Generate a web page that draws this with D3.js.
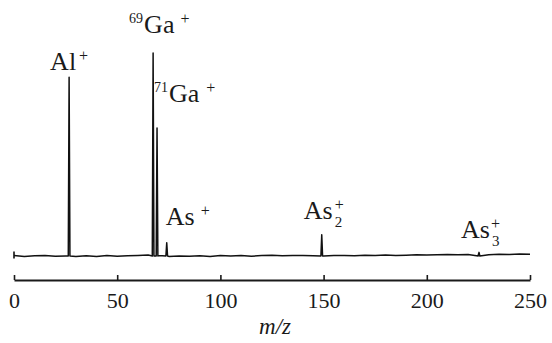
<!DOCTYPE html>
<html>
<head>
<meta charset="utf-8">
<script src="https://cdn.jsdelivr.net/npm/d3@7"></script>
<style>
  body { margin: 0; background: #fff; }
  #chart { width: 552px; height: 343px; }
  svg text { font-family: "Liberation Serif", "Times New Roman", Times, serif !important; fill: #1a1a1a; }
</style>
</head>
<body>
<div id="chart"></div>
<script>
const peakMz = [26.7, 67.4, 69.3, 74.0, 149.1, 225.3];
const peakIntensity = [88, 100, 63, 6.5, 10.5, 1.8];
const peakIon = ['Al', 'Ga', 'Ga', 'As', 'As', 'As'];
const peakIsotope = ['', '69', '71', '', '', ''];
const peakSub = ['', '', '', '', '2', '3'];

const baselineMz = [0, 5, 10, 15, 20, 25, 30, 35, 40, 45, 50, 55, 60, 65, 70, 75, 80, 85, 90, 95,
  100, 105, 110, 115, 120, 125, 130, 135, 140, 145, 150, 155, 160, 165, 170, 175, 180, 185, 190, 195,
  200, 205, 210, 215, 220, 225, 230, 235, 240, 245, 250];
const baselineNoise = [0.3, -0.2, 0.1, 0.2, -0.1, 0, -0.3, 0.1, -0.2, 0.2, -0.1, 0.1, 0.3, 0.5, 0.3, -0.2, 0, -0.1, 0.1, -0.2,
  0.2, 0, 0.3, -0.1, 0.2, 0.4, 0.1, 0.3, 0.2, 0.1, 0, 0.2, 0.3, 0.1, 0.4, 0.2, 0.5, 0.3, 0.4, 0.6,
  0.5, 0.6, 0.7, 0.6, 0.7, 0.8, 0.6, 0.9, 0.8, 1.0, 0.9];

const tickValues = [0, 50, 100, 150, 200, 250];

//Posición de las etiquetas respecto a la cima de cada pico
const labelDx = [-19, -9, 12, -1, -18, -18];
const labelDy = [-7, -20, -26, -18, -16, -14];
const supGap = [3, 6, 7, 6, 2, 1];

const SERIF = '"Liberation Serif", "Times New Roman", Times, serif';

let svg = d3.select('#chart')
  .append('svg')
    .attr('width', 552)
    .attr('height', 343);

let x = d3.scaleLinear()
  .domain([0, 250])
  .range([14, 530]);

let y = d3.scaleLinear()
  .domain([0, 100])
  .range([256, 53]);

//Eje inferior
let axis = svg.append('g')
  .attr('transform', 'translate(0,280)')
  .call(d3.axisBottom(x).tickValues(tickValues).tickSize(-5).tickSizeOuter(0).tickPadding(12));

axis.attr('font-family', null);
axis.select('.domain').attr('stroke', '#1a1a1a').attr('stroke-width', 2.2);
axis.selectAll('.tick line').attr('stroke', '#1a1a1a').attr('stroke-width', 1.6);
axis.selectAll('.tick text')
  .style('font-family', SERIF)
  .style('font-size', '22px')
  .attr('fill', '#1a1a1a');

svg.append('text')
  .attr('x', 275)
  .attr('y', 334)
  .attr('text-anchor', 'middle')
  .style('font-family', SERIF)
  .style('font-size', '23px')
  .style('font-style', 'italic')
  .text('m/z');

//Traza del espectro
let points = baselineMz.map(function(d, i) { return [d, baselineNoise[i]]; });
peakMz.forEach(function(d, i) {
  points.push([d - 0.4, 0], [d, peakIntensity[i]], [d + 0.4, 0]);
});
points.sort(function(a, b) { return a[0] - b[0]; });

svg.append('path')
  .datum(points)
  .attr('fill', 'none')
  .attr('stroke', '#111')
  .attr('stroke-width', 1.5)
  .attr('stroke-linejoin', 'round')
  .attr('d', d3.line()
    .x(function(d) { return x(d[0]); })
    .y(function(d) { return y(d[1]); }));

//Marca de inicio de la traza
svg.append('line')
  .attr('x1', x(0)).attr('x2', x(0))
  .attr('y1', y(baselineNoise[0]) - 4).attr('y2', y(baselineNoise[0]) + 3)
  .attr('stroke', '#111')
  .attr('stroke-width', 1.6);

//Etiquetas de los iones
peakMz.forEach(function(d, i) {
  let g = svg.append('g')
    .attr('transform', 'translate(' + (x(d) + labelDx[i]) + ',' + (y(peakIntensity[i]) + labelDy[i]) + ')');

  let main = g.append('text')
    .attr('x', 0).attr('y', 0)
    .style('font-family', SERIF)
    .style('font-size', '26px')
    .text(peakIon[i]);
  let w = main.node().getComputedTextLength();

  if (peakIsotope[i]) {
    g.append('text')
      .attr('x', -1).attr('y', -10)
      .attr('text-anchor', 'end')
      .style('font-family', SERIF)
      .style('font-size', '14px')
      .text(peakIsotope[i]);
  }
  if (peakSub[i]) {
    g.append('text')
      .attr('x', w + 2).attr('y', 8)
      .style('font-family', SERIF)
      .style('font-size', '15px')
      .text(peakSub[i]);
  }
  g.append('text')
    .attr('x', w + supGap[i]).attr('y', -9)
    .style('font-family', SERIF)
    .style('font-size', '16px')
    .text('+');
});
</script>
</body>
</html>
